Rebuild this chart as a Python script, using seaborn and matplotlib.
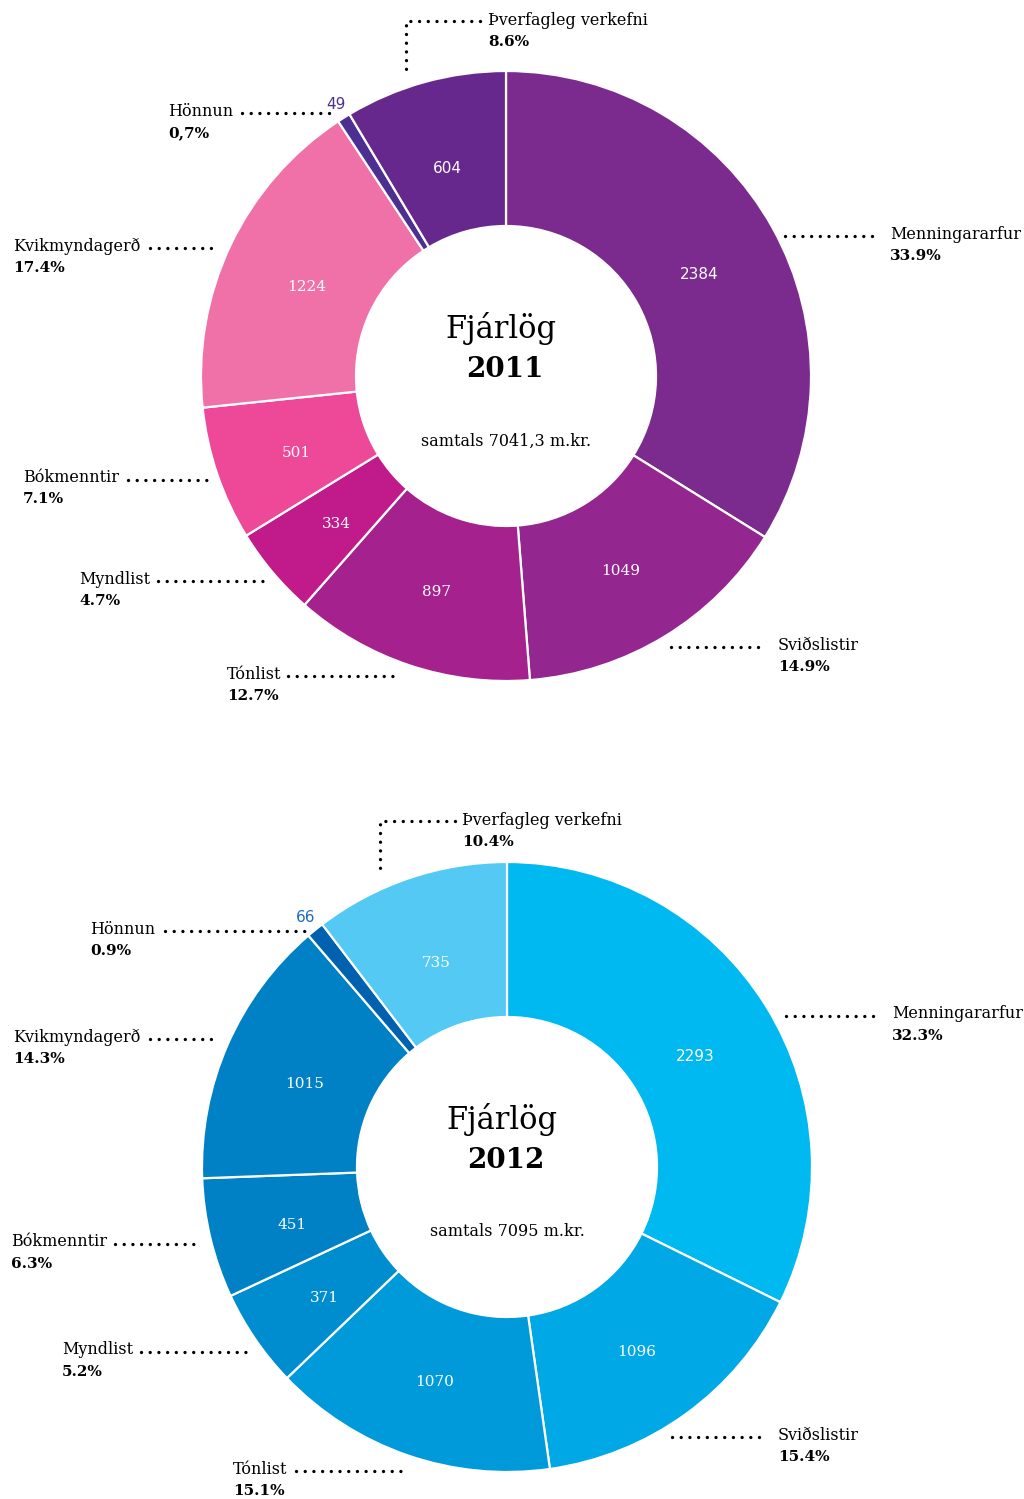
import numpy as np
import pandas as pd
import seaborn as sns
import matplotlib.pyplot as plt

# gögn
categories = ["Menningararfur", "Sviðslistir", "Tónlist", "Myndlist",
              "Bókmenntir", "Kvikmyndagerð", "Hönnun", "Þverfagleg verkefni"]
values_2011 = [2384, 1049, 897, 334, 501, 1224, 49, 604]
values_2012 = [2293, 1096, 1070, 371, 451, 1015, 66, 735]
pct_2011 = ["33.9%", "14.9%", "12.7%", "4.7%", "7.1%", "17.4%", "0,7%", "8.6%"]
pct_2012 = ["32.3%", "15.4%", "15.1%", "5.2%", "6.3%", "14.3%", "0.9%", "10.4%"]
totals = ["samtals 7041,3 m.kr.", "samtals 7095 m.kr."]
years = ["2011", "2012"]

colors_2011 = ["#7b2a8d", "#93278f", "#a5218e", "#c11a8a",
               "#ee4899", "#f070a8", "#4d2f91", "#66288d"]
colors_2012 = ["#00b9f1", "#00a9e5", "#009adb", "#008dd0",
               "#0081c6", "#0080c5", "#0062ae", "#54c9f4"]

sns.set_theme(style="white")
plt.rcParams['font.family'] = ['DejaVu Serif', 'DejaVu Sans']
plt.rcParams['text.color'] = 'black'

W, H = 1024, 1499
R, R_IN = 305, 150

fig = plt.figure(figsize=(W / 100, H / 100), dpi=100)
ax = fig.add_axes([0, 0, 1, 1])


def py(y):
    # pixel y (ofan frá) -> gagnahnit
    return H - y


# útlit merkja: (texti x, texti y, punktalína)
leaders_2011 = [
    (890, 234, [(785, 236), (877, 236)]),
    (778, 645, [(671, 647), (765, 647)]),
    (227, 674, [(288, 676), (400, 676)]),
    (79, 579, [(158, 581), (268, 581)]),
    (23, 477, [(128, 480), (213, 480)]),
    (13, 246, [(150, 248), (218, 248)]),
    (168, 111, [(242, 113), (333, 113)]),
    (488, 20, [(480, 21), (406, 21), (406, 73)]),
]
leaders_2012 = [
    (892, 1014, [(786, 1016), (880, 1016)]),
    (778, 1435, [(672, 1437), (765, 1437)]),
    (233, 1469, [(296, 1471), (405, 1471)]),
    (62, 1350, [(141, 1352), (250, 1352)]),
    (11, 1242, [(115, 1244), (200, 1244)]),
    (13, 1037, [(150, 1039), (218, 1039)]),
    (90, 929, [(165, 931), (305, 931)]),
    (462, 820, [(455, 821), (380, 821), (380, 875)]),
]


def donut(values, colors, pcts, leaders, cx, cy, year, total, small_color, sans_idx):
    wedges, texts = ax.pie(values, colors=colors, radius=R, center=(cx, py(cy)),
                           startangle=90, counterclock=False,
                           labels=[str(v) for v in values], labeldistance=0.725,
                           wedgeprops=dict(width=R - R_IN, edgecolor="white", linewidth=1.6),
                           textprops=dict(color="white", fontsize=11), frame=False)
    for i, t in enumerate(texts):
        t.set_ha("center")
        t.set_va("center")
        x, y = t.get_position()
        t.set_position((x, y - 6))
        if i in sans_idx:
            t.set_family("DejaVu Sans")
    # Hönnun er svo lítil að talan fer út fyrir
    w = wedges[6]
    ang = np.deg2rad((w.theta1 + w.theta2) / 2)
    texts[6].set_position((cx + 1.05 * R * np.cos(ang), py(cy) + 1.05 * R * np.sin(ang)))
    texts[6].set_color(small_color)

    # miðjutexti
    ax.text(cx - 5, py(cy - 48), "Fjárlög", fontsize=22, ha="center", va="center")
    ax.text(cx - 1, py(cy - 7), year, fontsize=20, fontweight="bold", ha="center", va="center")
    ax.text(cx, py(cy + 65), total, fontsize=11.5, ha="center", va="center")

    for name, pct, (tx, ty, pts) in zip(categories, pcts, leaders):
        xs = [p[0] for p in pts]
        ys = [py(p[1]) for p in pts]
        ax.plot(xs, ys, color="black", lw=2.4, linestyle=(0, (0.01, 2.6)),
                dash_capstyle="round", solid_capstyle="round")
        ax.text(tx, py(ty), name, fontsize=11.5, ha="left", va="center")
        ax.text(tx, py(ty + 22), pct, fontsize=11, fontweight="bold", ha="left", va="center")


donut(values_2011, colors_2011, pct_2011, leaders_2011, 506, 376,
      years[0], totals[0], "#4d2f91", [0, 6, 7])
donut(values_2012, colors_2012, pct_2012, leaders_2012, 507, 1167,
      years[1], totals[1], "#1e6bb8", [0, 6])

ax.set_xlim(0, W)
ax.set_ylim(0, H)
ax.set_aspect("equal")
ax.axis("off")

fig.savefig("out.png", dpi=100, facecolor="white")
